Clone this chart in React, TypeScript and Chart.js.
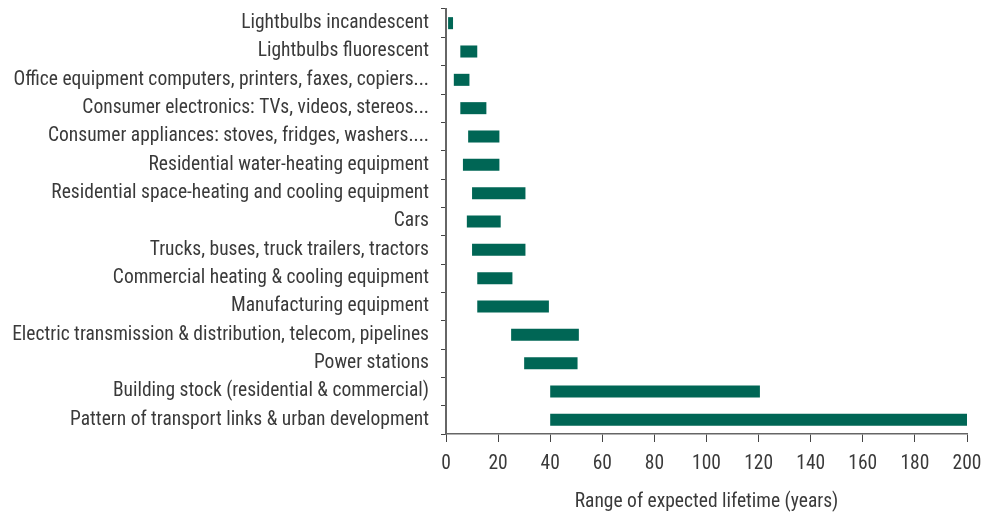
import React, { useEffect, useRef } from "react";
import { Chart, registerables } from "chart.js";

Chart.register(...registerables);

const categories = [
  "Lightbulbs incandescent",
  "Lightbulbs fluorescent",
  "Office equipment computers, printers, faxes, copiers...",
  "Consumer electronics: TVs, videos, stereos...",
  "Consumer appliances: stoves, fridges, washers....",
  "Residential water-heating equipment",
  "Residential space-heating and cooling equipment",
  "Cars",
  "Trucks, buses, truck trailers, tractors",
  "Commercial heating & cooling equipment",
  "Manufacturing equipment",
  "Electric transmission & distribution, telecom, pipelines",
  "Power stations",
  "Building stock (residential & commercial)",
  "Pattern of transport links & urban development",
];

const lifetimeMin = [0.8, 5.5, 3, 5.5, 8.5, 6.5, 10, 8, 10, 12, 12, 25, 30, 40, 40];
const lifetimeMax = [2.7, 12, 9, 15.5, 20.5, 20.5, 30.5, 21, 30.5, 25.5, 39.5, 51, 50.5, 120.5, 200];

const xTicks = [0, 20, 40, 60, 80, 100, 120, 140, 160, 180, 200];

const FONT = "'Liberation Sans Narrow', 'Roboto Condensed', Roboto, sans-serif";
const TEXT = "#3a3a3a";
const SIZE = 19.5;

export default function App() {
  const ref = useRef<HTMLCanvasElement | null>(null);

  useEffect(() => {
    if (!ref.current) return;
    const chart = new Chart(ref.current, {
      type: "bar",
      data: {
        labels: categories,
        datasets: [
          {
            data: categories.map((_, i) => [lifetimeMin[i], lifetimeMax[i]]) as any,
            backgroundColor: "#006655",
            borderWidth: 0,
            barPercentage: 0.85,
            categoryPercentage: 0.5,
          },
        ],
      },
      options: {
        indexAxis: "y",
        responsive: false,
        animation: false,
        layout: { padding: { top: 9, right: 0, left: 0, bottom: 0 } },
        plugins: { legend: { display: false }, tooltip: { enabled: false } },
        scales: {
          x: {
            type: "linear",
            min: 0,
            max: 200,
            afterBuildTicks: (scale: any) => {
              scale.ticks = xTicks.map((v) => ({ value: v }));
            },
            afterFit: (scale: any) => {
              scale.height = 80;
              scale.paddingRight = 15;
              scale.paddingLeft = 0;
            },
            grid: {
              drawOnChartArea: false,
              drawTicks: true,
              tickLength: 8,
              color: "#444",
              tickColor: "#444",
            },
            border: { color: "#666", width: 1.5 },
            ticks: {
              color: TEXT,
              font: { family: FONT, size: SIZE },
              padding: 10,
            },
            title: {
              display: true,
              text: "Range of expected lifetime (years)",
              color: TEXT,
              font: { family: FONT, size: SIZE },
              padding: { top: 4, bottom: 0 },
            },
          },
          y: {
            type: "category",
            offset: true,
            afterFit: (scale: any) => {
              scale.width = 446;
              scale.paddingTop = 0;
              scale.paddingBottom = 0;
            },
            grid: {
              drawOnChartArea: false,
              drawTicks: true,
              tickLength: 5,
              offset: true,
              color: "#444",
              tickColor: "#444",
            },
            border: { color: "#666", width: 2 },
            ticks: {
              color: TEXT,
              font: { family: FONT, size: SIZE },
              padding: 12,
              autoSkip: false,
            },
          },
        },
      },
    });
    return () => chart.destroy();
  }, []);

  return (
    <div style={{ position: "absolute", left: 0, top: 0, width: 982, height: 514, background: "#fff" }}>
      <canvas ref={ref} width={982} height={514} style={{ width: 982, height: 514 }} />
    </div>
  );
}
